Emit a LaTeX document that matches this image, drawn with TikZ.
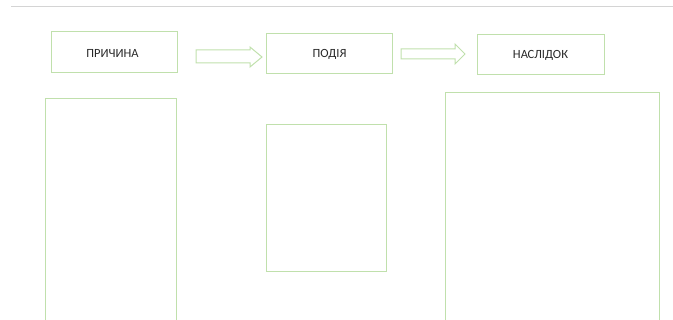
\documentclass[tikz,border=0pt]{standalone}
\usepackage{fontspec}
\setmainfont{Carlito}
\definecolor{boxgreen}{RGB}{192,224,172}
\definecolor{rulegray}{RGB}{212,212,212}
\definecolor{txtgray}{RGB}{40,40,40}
\begin{document}
\begin{tikzpicture}[x=1pt,y=-1pt,
  greenbox/.style={draw=boxgreen, line width=1pt},
  label/.style={font=\fontsize{12.5}{14}\selectfont, text=txtgray},
  blockarrow/.style={draw=boxgreen, line width=1pt, line join=miter}]
\useasboundingbox (0,0) rectangle (673,320);
\clip (0,0) rectangle (673,320);
% top rule
\coordinate (ruleL) at (11,7);
\coordinate (ruleR) at (673,7);
\draw[rulegray, line width=1pt] (ruleL) -- (ruleR);
% top boxes
\draw[greenbox] (51,32) rectangle (177,73);
\node[label] (cause) at (112.5,53) {ПРИЧИНА};
\draw[greenbox] (266,34) rectangle (392,74);
\node[label] (event) at (329.5,54) {ПОДІЯ};
\draw[greenbox] (477,35) rectangle (604,75);
\node[label] (effect) at (540.5,55) {НАСЛІДОК};
% block arrows
\draw[blockarrow] (196,50) -- (250,50) -- (250,47) -- (262,57) -- (250,67) -- (250,63) -- (196,63) -- cycle;
\draw[blockarrow] (401,49) -- (455,49) -- (455,44) -- (465,54) -- (455,64) -- (455,59) -- (401,59) -- cycle;
% lower boxes
\draw[greenbox] (45,99) rectangle (176,330);
\draw[greenbox] (266,125) rectangle (386,272);
\draw[greenbox] (445,93) rectangle (659,330);
\end{tikzpicture}
\end{document}
